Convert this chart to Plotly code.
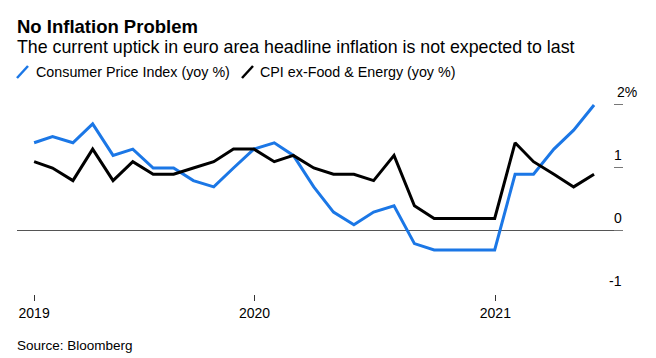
import plotly.graph_objects as go

# Month-end dates (monthly data, Jan 2019 - May 2021)
dates = [
    "2019-01-31", "2019-02-28", "2019-03-31", "2019-04-30", "2019-05-31", "2019-06-30",
    "2019-07-31", "2019-08-31", "2019-09-30", "2019-10-31", "2019-11-30", "2019-12-31",
    "2020-01-31", "2020-02-29", "2020-03-31", "2020-04-30", "2020-05-31", "2020-06-30",
    "2020-07-31", "2020-08-31", "2020-09-30", "2020-10-31", "2020-11-30", "2020-12-31",
    "2021-01-31", "2021-02-28", "2021-03-31", "2021-04-30", "2021-05-31",
]
cpi = [1.4, 1.5, 1.4, 1.7, 1.2, 1.3, 1.0, 1.0, 0.8, 0.7, 1.0, 1.3,
       1.4, 1.2, 0.7, 0.3, 0.1, 0.3, 0.4, -0.2, -0.3, -0.3, -0.3, -0.3,
       0.9, 0.9, 1.3, 1.6, 2.0]
core = [1.1, 1.0, 0.8, 1.3, 0.8, 1.1, 0.9, 0.9, 1.0, 1.1, 1.3, 1.3,
        1.1, 1.2, 1.0, 0.9, 0.9, 0.8, 1.2, 0.4, 0.2, 0.2, 0.2, 0.2,
        1.4, 1.1, 0.9, 0.7, 0.9]

series_names = ["Consumer Price Index (yoy %)", "CPI ex-Food & Energy (yoy %)"]
series_colors = ["#1b77e6", "#000000"]

x_tick_vals = ["2019-01-31", "2020-01-01", "2021-01-01"]
x_tick_text = ["2019", "2020", "2021"]
y_tick_vals = [-1, 0, 1, 2]
y_tick_text = ["-1", "0", "1", "2%"]

title = "No Inflation Problem"
subtitle = "The current uptick in euro area headline inflation is not expected to last"
source = "Source: Bloomberg"

FONT = "Liberation Sans, Arial, sans-serif"

# The page body has an 8px default margin, so the figure is 8px smaller than the window.
W, H = 648, 350
ML, MR, MT, MB = 9, 33, 84, 64
PW, PH = W - ML - MR, H - MT - MB

fig = go.Figure()
for name, vals, col in zip(series_names, [cpi, core], series_colors):
    fig.add_trace(go.Scatter(x=dates, y=vals, mode="lines", name=name,
                             line=dict(color=col, width=3), showlegend=False))

fig.update_layout(
    width=W, height=H,
    margin=dict(l=ML, r=MR, t=MT, b=MB),
    paper_bgcolor="white", plot_bgcolor="white",
    font=dict(family=FONT, color="#000"),
    xaxis=dict(
        type="date", range=["2019-01-05", "2021-07-14"],
        showgrid=False, zeroline=False, showline=False,
        tickmode="array", tickvals=x_tick_vals, ticktext=x_tick_text,
        ticks="outside", ticklen=6, tickwidth=1, tickcolor="#333",
        tickfont=dict(size=14, color="#000"),
    ),
    yaxis=dict(
        range=[-1.0, 2.206], side="right",
        showgrid=False, zeroline=True, zerolinecolor="#555", zerolinewidth=1,
        showline=False,
        tickmode="array", tickvals=y_tick_vals,
        ticks="inside", ticklen=9, tickwidth=1, tickcolor="#777",
        showticklabels=False,
    ),
)

# y tick labels above ticks (Bloomberg style)
for v, t in zip(y_tick_vals, y_tick_text):
    if t.endswith("%"):
        fig.add_annotation(x=1, xref="paper", y=v, yref="y", text=t, showarrow=False,
                           xanchor="left", yanchor="middle", xshift=-8, yshift=13,
                           font=dict(size=14, color="#000"))
    else:
        fig.add_annotation(x=1, xref="paper", y=v, yref="y", text=t, showarrow=False,
                           xanchor="right", yanchor="middle", xshift=1, yshift=13,
                           font=dict(size=14, color="#000"))

# Title, subtitle, source
fig.add_annotation(x=0, xref="paper", y=1, yref="paper", text="<b>" + title + "</b>",
                   showarrow=False, xanchor="left", yanchor="middle", xshift=-2, yshift=66,
                   font=dict(size=18.5, color="#000"))
fig.add_annotation(x=0, xref="paper", y=1, yref="paper", text=subtitle,
                   showarrow=False, xanchor="left", yanchor="middle", xshift=-2, yshift=45,
                   font=dict(size=17.8, color="#000"))
fig.add_annotation(x=0, xref="paper", y=0, yref="paper", text=source,
                   showarrow=False, xanchor="left", yanchor="middle", xshift=-2, yshift=-51,
                   font=dict(size=13.5, color="#000"))

# Legend: slash icons + labels (offsets in px from the plot's left edge)
legend_icon_dx = [0, 225]
legend_text_dx = [19, 243]
for name, col, ix, tx in zip(series_names, series_colors, legend_icon_dx, legend_text_dx):
    fig.add_shape(type="line", xref="paper", yref="paper",
                  x0=ix / PW, x1=(ix + 11) / PW,
                  y0=1 + 14 / PH, y1=1 + 26 / PH,
                  line=dict(color=col, width=2.5))
    fig.add_annotation(x=tx / PW, xref="paper", y=1, yref="paper", text=name,
                       showarrow=False, xanchor="left", yanchor="middle", xshift=-2, yshift=20,
                       font=dict(size=14.3, color="#000"))

fig.write_html("out.html")
